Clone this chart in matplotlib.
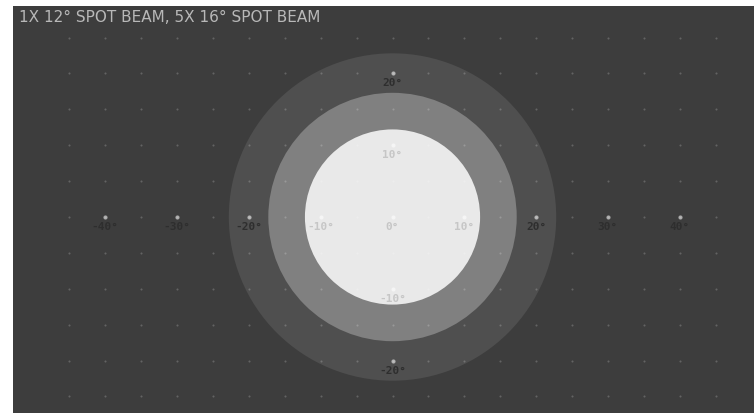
import matplotlib
matplotlib.use('Agg')
import numpy as np
import matplotlib.pyplot as plt
from matplotlib.patches import Circle

title = '1X 12° SPOT BEAM, 5X 16° SPOT BEAM'

# beam footprints (radius in degrees), drawn outermost first
beam_radius = [22.8, 17.3, 12.2]
beam_color = ['#4f4f4f', '#808080', '#e9e9e9']

# background dot grid (degrees)
grid_x = [-45, -40, -35, -30, -25, -20, -15, -10, -5, 0, 5, 10, 15, 20, 25, 30, 35, 40, 45]
grid_y = [-25, -20, -15, -10, -5, 0, 5, 10, 15, 20, 25]

# labelled points on the axes
x_ticks = [-40, -30, -20, -10, 0, 10, 20, 30, 40]
y_ticks = [20, 10, -10, -20]

W, H = 754, 414
fig = plt.figure(figsize=(W / 100, H / 100), dpi=100, facecolor='white')
ax = fig.add_axes([13 / W, 0, (W - 13) / W, (H - 7) / H])
ax.set_facecolor('#3d3d3d')
ax.set_xlim(-52.86, 50.35)
ax.set_ylim(-27.3, 29.39)
ax.set_xticks([])
ax.set_yticks([])
for s in ax.spines.values():
    s.set_visible(False)

for r, c in zip(beam_radius, beam_color):
    ax.add_patch(Circle((0, 0), r, fc=c, ec='none', zorder=1))

gx, gy = np.meshgrid(grid_x, grid_y)
ax.scatter(gx.ravel(), gy.ravel(), s=2.2, c='white', alpha=0.2, lw=0, zorder=2)

major = [(x, 0) for x in x_ticks] + [(0, y) for y in y_ticks]
mx = [p[0] for p in major]
my = [p[1] for p in major]
ax.scatter(mx, my, s=9, c='white', alpha=0.55, lw=0, zorder=3)

inner = beam_radius[-1]
for x, y in major:
    col = '#c6c6c6' if np.hypot(x, y) < inner else '#2e2e2e'
    ax.text(x, y - 1.25, f'{x if y == 0 else y}°', ha='center', va='center',
            fontsize=8, color=col, zorder=4,
            family='DejaVu Sans Mono', fontweight='bold')

fig.text(19 / W, 1 - 17 / H, title, ha='left', va='center', fontsize=11,
         color='#b8b8b8', family='DejaVu Sans')

fig.savefig('out.png', dpi=100, facecolor=fig.get_facecolor())
